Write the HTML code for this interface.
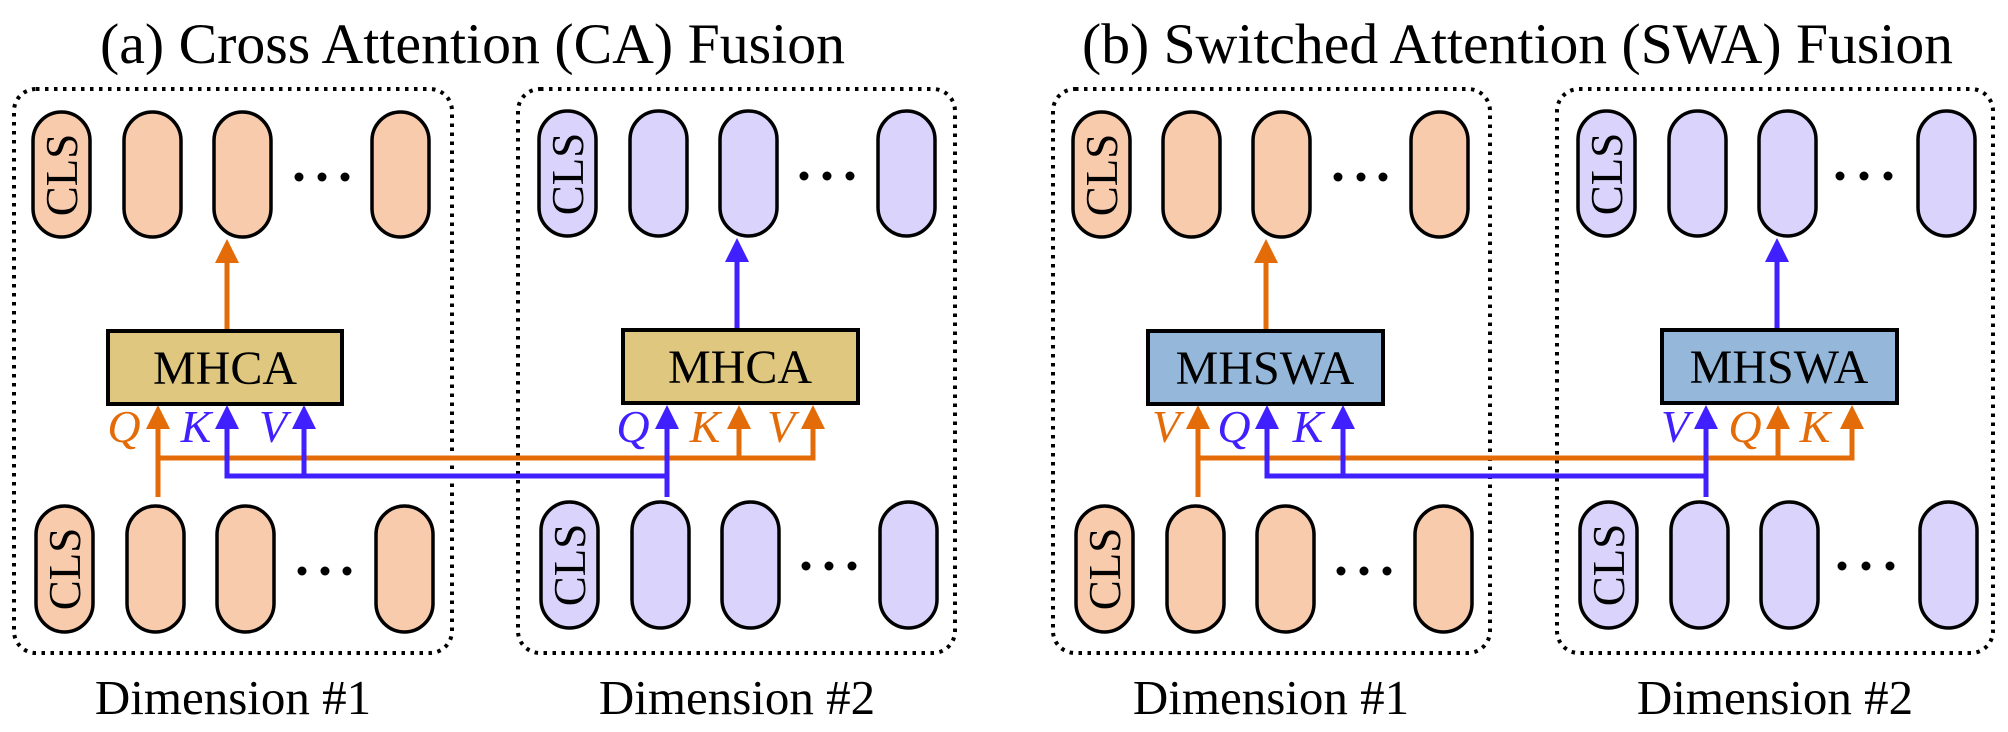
<!DOCTYPE html>
<html><head><meta charset="utf-8"><style>html,body{margin:0;padding:0;background:#fff}svg{display:block}</style></head>
<body>
<svg width="2008" height="732" viewBox="0 0 2008 732" xmlns="http://www.w3.org/2000/svg">
<style>
text{font-family:"Liberation Serif","Times New Roman",serif}
.tko{fill:#F8CBAD;stroke:#000;stroke-width:3.5}
.tkp{fill:#DAD4FC;stroke:#000;stroke-width:3.5}
.box{fill:none;stroke:#000;stroke-width:4;stroke-dasharray:3.5 5.5}
.o{stroke:#E36C09;stroke-width:5;fill:none}
.b{stroke:#4020FF;stroke-width:5;fill:none}
.ho{fill:#E36C09}.hb{fill:#4020FF}
.cls{font-size:45px}
.lab{font-size:46px;font-style:italic}
.t{font-size:57px}
.d{font-size:49px}
.m{font-size:48px}
</style>

<text class="t" x="100" y="63" textLength="745" lengthAdjust="spacingAndGlyphs">(a) Cross Attention (CA) Fusion</text>
<text class="t" x="1082" y="63" textLength="871" lengthAdjust="spacingAndGlyphs">(b) Switched Attention (SWA) Fusion</text>

<rect class="box" x="14" y="89" width="438" height="564" rx="22"/>
<rect class="box" x="518" y="89" width="437" height="564" rx="22"/>
<rect class="box" x="1053" y="89" width="437" height="564" rx="22"/>
<rect class="box" x="1557" y="89" width="436" height="564" rx="22"/>

<text class="d" x="233" y="714" text-anchor="middle">Dimension #1</text>
<text class="d" x="737" y="714" text-anchor="middle">Dimension #2</text>
<text class="d" x="1271" y="714" text-anchor="middle">Dimension #1</text>
<text class="d" x="1775" y="714" text-anchor="middle">Dimension #2</text>

<g>
<rect class="tko" x="33" y="112" width="57" height="125" rx="28.5"/>
<rect class="tko" x="124" y="112" width="57" height="125" rx="28.5"/>
<rect class="tko" x="214" y="112" width="57" height="125" rx="28.5"/>
<rect class="tko" x="372" y="112" width="57" height="125" rx="28.5"/>
<circle cx="299" cy="177" r="4.5"/><circle cx="322" cy="177" r="4.5"/><circle cx="345" cy="177" r="4.5"/>
<rect class="tko" x="36" y="506" width="57" height="126" rx="28.5"/>
<rect class="tko" x="127" y="506" width="57" height="126" rx="28.5"/>
<rect class="tko" x="217" y="506" width="57" height="126" rx="28.5"/>
<rect class="tko" x="376" y="506" width="57" height="126" rx="28.5"/>
<circle cx="302" cy="571" r="4.5"/><circle cx="325" cy="571" r="4.5"/><circle cx="347" cy="571" r="4.5"/>
<text class="cls" transform="translate(77,175) rotate(-90)" text-anchor="middle">CLS</text>
<text class="cls" transform="translate(80,569) rotate(-90)" text-anchor="middle">CLS</text>
</g>
<g>
<rect class="tkp" x="539" y="111" width="57" height="125" rx="28.5"/>
<rect class="tkp" x="630" y="111" width="57" height="125" rx="28.5"/>
<rect class="tkp" x="720" y="111" width="57" height="125" rx="28.5"/>
<rect class="tkp" x="878" y="111" width="57" height="125" rx="28.5"/>
<circle cx="804" cy="176" r="4.5"/><circle cx="827" cy="176" r="4.5"/><circle cx="850" cy="176" r="4.5"/>
<rect class="tkp" x="541" y="502" width="57" height="126" rx="28.5"/>
<rect class="tkp" x="632" y="502" width="57" height="126" rx="28.5"/>
<rect class="tkp" x="722" y="502" width="57" height="126" rx="28.5"/>
<rect class="tkp" x="880" y="502" width="57" height="126" rx="28.5"/>
<circle cx="806" cy="566" r="4.5"/><circle cx="829" cy="566" r="4.5"/><circle cx="852" cy="566" r="4.5"/>
<text class="cls" transform="translate(583,174) rotate(-90)" text-anchor="middle">CLS</text>
<text class="cls" transform="translate(585,565) rotate(-90)" text-anchor="middle">CLS</text>
</g>
<g>
<rect class="tko" x="1073" y="112" width="57" height="125" rx="28.5"/>
<rect class="tko" x="1163" y="112" width="57" height="125" rx="28.5"/>
<rect class="tko" x="1253" y="112" width="57" height="125" rx="28.5"/>
<rect class="tko" x="1411" y="112" width="57" height="125" rx="28.5"/>
<circle cx="1338" cy="177" r="4.5"/><circle cx="1361" cy="177" r="4.5"/><circle cx="1383" cy="177" r="4.5"/>
<rect class="tko" x="1076" y="506" width="57" height="126" rx="28.5"/>
<rect class="tko" x="1167" y="506" width="57" height="126" rx="28.5"/>
<rect class="tko" x="1257" y="506" width="57" height="126" rx="28.5"/>
<rect class="tko" x="1415" y="506" width="57" height="126" rx="28.5"/>
<circle cx="1341" cy="571" r="4.5"/><circle cx="1364" cy="571" r="4.5"/><circle cx="1387" cy="571" r="4.5"/>
<text class="cls" transform="translate(1117,175) rotate(-90)" text-anchor="middle">CLS</text>
<text class="cls" transform="translate(1120,569) rotate(-90)" text-anchor="middle">CLS</text>
</g>
<g>
<rect class="tkp" x="1578" y="111" width="57" height="125" rx="28.5"/>
<rect class="tkp" x="1669" y="111" width="57" height="125" rx="28.5"/>
<rect class="tkp" x="1759" y="111" width="57" height="125" rx="28.5"/>
<rect class="tkp" x="1918" y="111" width="57" height="125" rx="28.5"/>
<circle cx="1840" cy="176" r="4.5"/><circle cx="1864" cy="176" r="4.5"/><circle cx="1888" cy="176" r="4.5"/>
<rect class="tkp" x="1580" y="502" width="57" height="126" rx="28.5"/>
<rect class="tkp" x="1671" y="502" width="57" height="126" rx="28.5"/>
<rect class="tkp" x="1761" y="502" width="57" height="126" rx="28.5"/>
<rect class="tkp" x="1920" y="502" width="57" height="126" rx="28.5"/>
<circle cx="1842" cy="566" r="4.5"/><circle cx="1866" cy="566" r="4.5"/><circle cx="1890" cy="566" r="4.5"/>
<text class="cls" transform="translate(1622,174) rotate(-90)" text-anchor="middle">CLS</text>
<text class="cls" transform="translate(1624,565) rotate(-90)" text-anchor="middle">CLS</text>
</g>

<path class="o" d="M158,497 V428"/>
<path class="o" d="M158,458 H813 V428"/>
<path class="o" d="M739,458 V428"/>
<path class="b" d="M227,428 V476 H667"/>
<path class="b" d="M304,476 V428"/>
<path class="b" d="M667,497 V428"/>
<path class="o" d="M227,331 V260"/>
<path class="b" d="M737,330 V259"/>
<path class="ho" d="M146,429 L158,405 L170,429 Z"/>
<path class="hb" d="M215,429 L227,405 L239,429 Z"/>
<path class="hb" d="M292,429 L304,405 L316,429 Z"/>
<path class="hb" d="M655,429 L667,405 L679,429 Z"/>
<path class="ho" d="M727,429 L739,405 L751,429 Z"/>
<path class="ho" d="M801,429 L813,405 L825,429 Z"/>
<path class="ho" d="M215,263 L227,239 L239,263 Z"/>
<path class="hb" d="M725,262 L737,238 L749,262 Z"/>

<path class="o" d="M1198,497 V428"/>
<path class="o" d="M1198,458 H1852 V428"/>
<path class="o" d="M1778,458 V428"/>
<path class="b" d="M1267,428 V476 H1706"/>
<path class="b" d="M1343,476 V428"/>
<path class="b" d="M1706,497 V428"/>
<path class="o" d="M1266,331 V260"/>
<path class="b" d="M1777,330 V259"/>
<path class="ho" d="M1186,429 L1198,405 L1210,429 Z"/>
<path class="hb" d="M1255,429 L1267,405 L1279,429 Z"/>
<path class="hb" d="M1331,429 L1343,405 L1355,429 Z"/>
<path class="hb" d="M1694,429 L1706,405 L1718,429 Z"/>
<path class="ho" d="M1766,429 L1778,405 L1790,429 Z"/>
<path class="ho" d="M1840,429 L1852,405 L1864,429 Z"/>
<path class="ho" d="M1254,263 L1266,239 L1278,263 Z"/>
<path class="hb" d="M1765,262 L1777,238 L1789,262 Z"/>

<rect x="108" y="331" width="234" height="73" fill="#DFC77F" stroke="#000" stroke-width="4"/>
<text class="m" x="225" y="384" text-anchor="middle">MHCA</text>
<rect x="623" y="330" width="235" height="73" fill="#DFC77F" stroke="#000" stroke-width="4"/>
<text class="m" x="740" y="383" text-anchor="middle">MHCA</text>
<rect x="1148" y="331" width="235" height="73" fill="#95B8DA" stroke="#000" stroke-width="4"/>
<text class="m" x="1265" y="384" text-anchor="middle">MHSWA</text>
<rect x="1662" y="330" width="235" height="73" fill="#95B8DA" stroke="#000" stroke-width="4"/>
<text class="m" x="1779" y="383" text-anchor="middle">MHSWA</text>

<text class="lab" fill="#E36C09" x="124" y="442" text-anchor="middle">Q</text>
<text class="lab" fill="#4020FF" x="196" y="442" text-anchor="middle">K</text>
<text class="lab" fill="#4020FF" x="273" y="442" text-anchor="middle">V</text>
<text class="lab" fill="#4020FF" x="633" y="442" text-anchor="middle">Q</text>
<text class="lab" fill="#E36C09" x="705" y="442" text-anchor="middle">K</text>
<text class="lab" fill="#E36C09" x="781" y="442" text-anchor="middle">V</text>
<text class="lab" fill="#E36C09" x="1166" y="442" text-anchor="middle">V</text>
<text class="lab" fill="#4020FF" x="1234" y="442" text-anchor="middle">Q</text>
<text class="lab" fill="#4020FF" x="1308" y="442" text-anchor="middle">K</text>
<text class="lab" fill="#4020FF" x="1675" y="442" text-anchor="middle">V</text>
<text class="lab" fill="#E36C09" x="1745" y="442" text-anchor="middle">Q</text>
<text class="lab" fill="#E36C09" x="1815" y="442" text-anchor="middle">K</text>
</svg>
</body></html>
